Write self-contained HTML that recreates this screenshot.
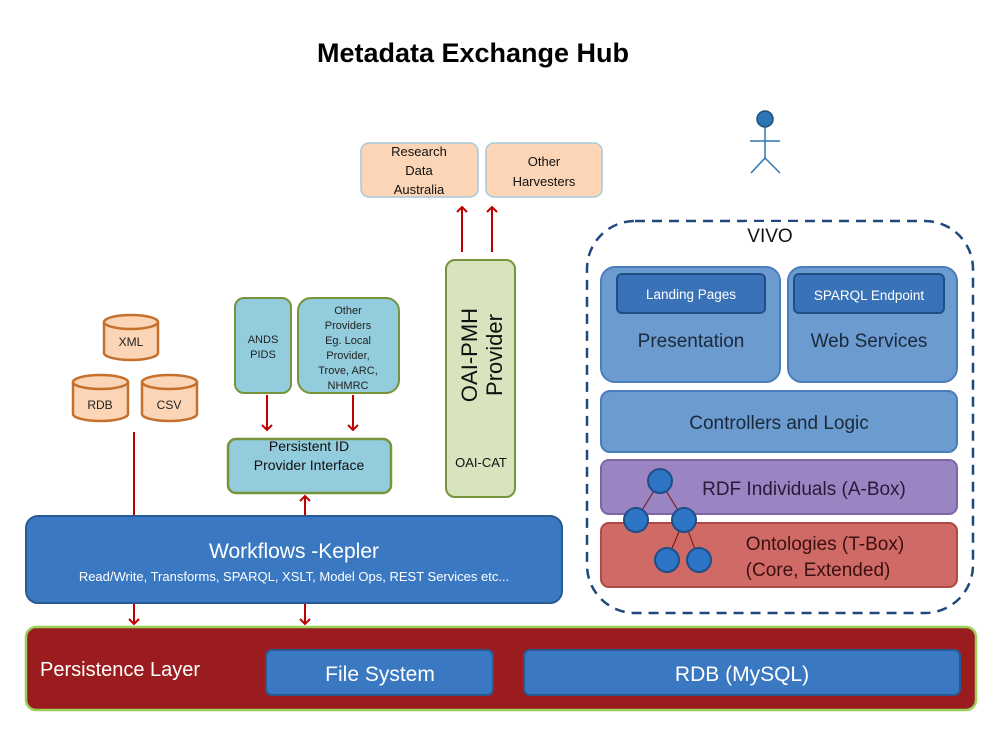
<!DOCTYPE html>
<html><head><meta charset="utf-8"><style>
html,body{margin:0;padding:0;background:#fff}
svg{display:block}
text{font-family:"Liberation Sans",sans-serif}
</style></head><body>
<svg width="986" height="749" viewBox="0 0 986 749" xmlns="http://www.w3.org/2000/svg">
<defs>
<marker id="ah" markerWidth="12" markerHeight="12" refX="6" refY="6" orient="auto" markerUnits="userSpaceOnUse">
<path d="M1,1 L6,6 L1,11" fill="none" stroke="#c00000" stroke-width="2"/>
</marker>
</defs>
<rect width="986" height="749" fill="#fff"/>
<text x="473" y="62" font-size="27" font-weight="bold" text-anchor="middle" fill="#000">Metadata Exchange Hub</text>

<!-- harvesters -->
<rect x="361" y="143" width="117" height="54" rx="8" fill="#fbd5b5" stroke="#a6c9dc" stroke-width="1.5"/>
<text font-size="13" text-anchor="middle" fill="#111"><tspan x="419" y="156">Research</tspan><tspan x="419" y="175">Data</tspan><tspan x="419" y="194">Australia</tspan></text>
<rect x="486" y="143" width="116" height="54" rx="8" fill="#fbd5b5" stroke="#a6c9dc" stroke-width="1.5"/>
<text font-size="13" text-anchor="middle" fill="#111"><tspan x="544" y="166">Other</tspan><tspan x="544" y="186">Harvesters</tspan></text>
<line x1="462" y1="252" x2="462" y2="207" stroke="#c00000" stroke-width="2" marker-end="url(#ah)"/>
<line x1="492" y1="252" x2="492" y2="207" stroke="#c00000" stroke-width="2" marker-end="url(#ah)"/>

<!-- stick figure -->
<circle cx="765" cy="119" r="8" fill="#2e75b6" stroke="#1f4e79" stroke-width="1.5"/>
<g stroke="#2e75b6" stroke-width="1.5"><line x1="765" y1="127" x2="765" y2="158"/><line x1="750" y1="141" x2="780" y2="141"/><line x1="765" y1="158" x2="751" y2="173"/><line x1="765" y1="158" x2="780" y2="173"/></g>

<!-- OAI-PMH -->
<rect x="446" y="260" width="69" height="237" rx="9" fill="#d7e4bd" stroke="#77933c" stroke-width="2"/>
<text font-size="22" text-anchor="middle" fill="#111" transform="translate(481,355) rotate(-90)"><tspan x="0" y="-4">OAI-PMH</tspan><tspan x="0" y="21">Provider</tspan></text>
<text x="481" y="467" font-size="13" text-anchor="middle" fill="#111">OAI-CAT</text>

<!-- cylinders -->
<g fill="#fbd5b5" stroke="#c5702c" stroke-width="2.5">
<path d="M104,322 v31 a27,7 0 0 0 54,0 v-31"/><ellipse cx="131" cy="322" rx="27" ry="7"/>
<path d="M73,382 v32 a27.5,7 0 0 0 55,0 v-32"/><ellipse cx="100.5" cy="382" rx="27.5" ry="7"/>
<path d="M142,382 v32 a27.5,7 0 0 0 55,0 v-32"/><ellipse cx="169.5" cy="382" rx="27.5" ry="7"/>
</g>
<text font-size="12" text-anchor="middle" fill="#222"><tspan x="131" y="346">XML</tspan><tspan x="100" y="409">RDB</tspan><tspan x="169" y="409">CSV</tspan></text>
<line x1="134" y1="432" x2="134" y2="624" stroke="#c00000" stroke-width="2" marker-end="url(#ah)"/>

<!-- providers -->
<rect x="235" y="298" width="56" height="95" rx="9" fill="#93cddd" stroke="#77933c" stroke-width="2"/>
<text font-size="11" text-anchor="middle" fill="#222"><tspan x="263" y="343">ANDS</tspan><tspan x="263" y="358">PIDS</tspan></text>
<rect x="298" y="298" width="101" height="95" rx="13" fill="#93cddd" stroke="#77933c" stroke-width="2"/>
<text font-size="11" text-anchor="middle" fill="#222"><tspan x="348" y="314">Other</tspan><tspan x="348" y="329">Providers</tspan><tspan x="348" y="344">Eg. Local</tspan><tspan x="348" y="359">Provider,</tspan><tspan x="348" y="374">Trove, ARC,</tspan><tspan x="348" y="389">NHMRC</tspan></text>
<line x1="267" y1="395" x2="267" y2="430" stroke="#c00000" stroke-width="2" marker-end="url(#ah)"/>
<line x1="353" y1="395" x2="353" y2="430" stroke="#c00000" stroke-width="2" marker-end="url(#ah)"/>
<rect x="228" y="439" width="163" height="54" rx="8" fill="#93cddd" stroke="#77933c" stroke-width="2.5"/>
<text font-size="14" text-anchor="middle" fill="#111"><tspan x="309" y="451">Persistent ID</tspan><tspan x="309" y="470">Provider Interface</tspan></text>
<line x1="305" y1="516" x2="305" y2="496" stroke="#c00000" stroke-width="2" marker-end="url(#ah)"/>
<line x1="305" y1="604" x2="305" y2="624" stroke="#c00000" stroke-width="2" marker-end="url(#ah)"/>

<!-- workflows -->
<rect x="26" y="516" width="536" height="87" rx="12" fill="#3a78c2" stroke="#2a5a92" stroke-width="2"/>
<text x="294" y="558" font-size="21" text-anchor="middle" fill="#fff">Workflows  -Kepler</text>
<text x="294" y="581" font-size="13" text-anchor="middle" fill="#fff">Read/Write, Transforms, SPARQL, XSLT, Model Ops, REST Services etc...</text>

<!-- persistence -->
<rect x="26" y="627" width="950" height="83" rx="10" fill="#9a1c1f" stroke="#9bd05a" stroke-width="2.5"/>
<text x="40" y="676" font-size="20" fill="#fff">Persistence Layer</text>
<rect x="266" y="650" width="227" height="45" rx="6" fill="#3a78c2" stroke="#2a5a92" stroke-width="2"/>
<text x="380" y="681" font-size="21" text-anchor="middle" fill="#fff">File System</text>
<rect x="524" y="650" width="436" height="45" rx="6" fill="#3a78c2" stroke="#2a5a92" stroke-width="2"/>
<text x="742" y="681" font-size="21" text-anchor="middle" fill="#fff">RDB  (MySQL)</text>

<!-- VIVO -->
<rect x="587" y="221" width="386" height="392" rx="48" fill="none" stroke="#1f497d" stroke-width="2.5" stroke-dasharray="10,7"/>
<rect x="745" y="222" width="55" height="26" fill="#fff"/>
<text x="770" y="242" font-size="19" text-anchor="middle" fill="#111">VIVO</text>

<rect x="601" y="267" width="179" height="115" rx="14" fill="#6c9bd0" stroke="#4a7ebb" stroke-width="2"/>
<rect x="617" y="274" width="148" height="39" rx="5" fill="#3a72b8" stroke="#1f4e89" stroke-width="2"/>
<text x="691" y="299" font-size="13.5" text-anchor="middle" fill="#fff">Landing Pages</text>
<text x="691" y="347" font-size="19" text-anchor="middle" fill="#1a2a3a">Presentation</text>
<rect x="788" y="267" width="169" height="115" rx="14" fill="#6c9bd0" stroke="#4a7ebb" stroke-width="2"/>
<rect x="794" y="274" width="150" height="39" rx="5" fill="#3a72b8" stroke="#1f4e89" stroke-width="2"/>
<text x="869" y="300" font-size="13.5" text-anchor="middle" fill="#fff">SPARQL Endpoint</text>
<text x="869" y="347" font-size="19" text-anchor="middle" fill="#1a2a3a">Web Services</text>

<rect x="601" y="391" width="356" height="61" rx="9" fill="#6c9bd0" stroke="#4a7ebb" stroke-width="2"/>
<text x="779" y="429" font-size="19" text-anchor="middle" fill="#1a2a3a">Controllers and Logic</text>
<rect x="601" y="460" width="356" height="54" rx="8" fill="#9b84c2" stroke="#7c66a4" stroke-width="2"/>
<text x="804" y="495" font-size="19" text-anchor="middle" fill="#2a1a3a">RDF Individuals (A-Box)</text>
<rect x="601" y="523" width="356" height="64" rx="8" fill="#d06a66" stroke="#b04a46" stroke-width="2"/>
<text font-size="19" text-anchor="middle" fill="#3a1010"><tspan x="825" y="550">Ontologies (T-Box)</tspan><tspan x="818" y="576">(Core, Extended)</tspan></text>

<g stroke="#6a1010" stroke-width="1"><line x1="660" y1="481" x2="636" y2="520"/><line x1="660" y1="481" x2="684" y2="520"/><line x1="684" y1="520" x2="667" y2="560"/><line x1="684" y1="520" x2="699" y2="560"/></g>
<g fill="#2e75c6" stroke="#1f4e89" stroke-width="2">
<circle cx="660" cy="481" r="12"/><circle cx="636" cy="520" r="12"/><circle cx="684" cy="520" r="12"/><circle cx="667" cy="560" r="12"/><circle cx="699" cy="560" r="12"/>
</g>
</svg>
</body></html>
